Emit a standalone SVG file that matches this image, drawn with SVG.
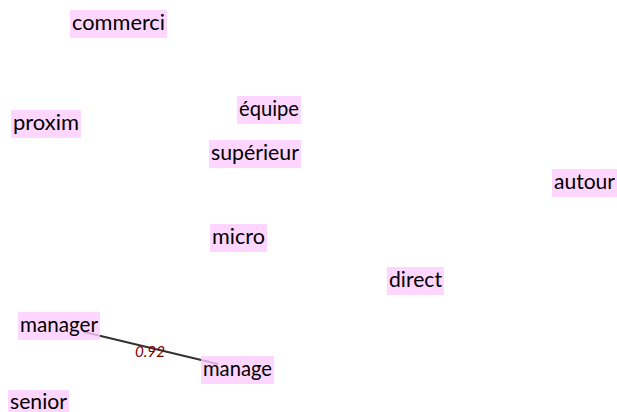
<svg xmlns="http://www.w3.org/2000/svg" width="617" height="412" viewBox="0 0 617 412">
<style>
.box{fill:#ffccff;fill-opacity:0.8}
.lbl{font-family:Lato,"Open Sans",sans-serif;font-size:21px;fill:#000}
.edge{stroke:#333;stroke-width:2;fill:none}
.elbl{font-family:Lato,"Open Sans",sans-serif;font-size:16px;font-style:italic;fill:#800000;text-anchor:middle}
</style>
<rect width="617" height="412" fill="#fff"/>
<g id="connectors">
<line class="edge" x1="84" y1="332" x2="218" y2="364"/>
<text class="elbl" x="150" y="357" textLength="30" lengthAdjust="spacingAndGlyphs">0.92</text>
</g>
<g id="commerci"><rect class="box" x="70" y="10" width="97" height="28"/><text class="lbl" x="72" y="30" textLength="93" lengthAdjust="spacingAndGlyphs">commerci</text></g>
<g id="proxim"><rect class="box" x="11" y="110" width="70" height="28"/><text class="lbl" x="13" y="130" textLength="66" lengthAdjust="spacingAndGlyphs">proxim</text></g>
<g id="equipe"><rect class="box" x="237" y="96" width="64" height="28"/><text class="lbl" x="239" y="116" textLength="60" lengthAdjust="spacingAndGlyphs">équipe</text></g>
<g id="superieur"><rect class="box" x="209" y="140" width="92" height="28"/><text class="lbl" x="211" y="160" textLength="88" lengthAdjust="spacingAndGlyphs">supérieur</text></g>
<g id="autour"><rect class="box" x="552" y="169" width="65" height="28"/><text class="lbl" x="554" y="189" textLength="61" lengthAdjust="spacingAndGlyphs">autour</text></g>
<g id="micro"><rect class="box" x="210" y="224" width="57" height="28"/><text class="lbl" x="212" y="244" textLength="53" lengthAdjust="spacingAndGlyphs">micro</text></g>
<g id="direct"><rect class="box" x="387" y="267" width="57" height="28"/><text class="lbl" x="389" y="287" textLength="53" lengthAdjust="spacingAndGlyphs">direct</text></g>
<g id="manager"><rect class="box" x="18" y="312" width="82" height="28"/><text class="lbl" x="20" y="332" textLength="78" lengthAdjust="spacingAndGlyphs">manager</text></g>
<g id="manage"><rect class="box" x="201" y="356" width="73" height="28"/><text class="lbl" x="203" y="376" textLength="69" lengthAdjust="spacingAndGlyphs">manage</text></g>
<g id="senior"><rect class="box" x="8" y="390" width="61" height="28"/><text class="lbl" x="10" y="409" textLength="57" lengthAdjust="spacingAndGlyphs">senior</text></g>
</svg>
